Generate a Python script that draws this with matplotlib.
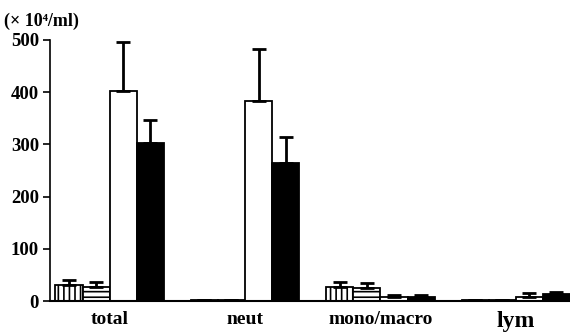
import numpy as np
import matplotlib.pyplot as plt

groups = ["total", "neut", "mono/macro", "lym"]
vert_vals = [31, 2, 27, 2]
vert_err = [9, 0, 10, 0]
horiz_vals = [27, 2, 24, 2]
horiz_err = [10, 0, 10, 0]
white_vals = [402, 383, 7, 7]
white_err = [94, 100, 4, 9]
black_vals = [303, 264, 8, 13]
black_err = [44, 50, 4, 5]

plt.rcParams["font.family"] = ["Liberation Serif", "DejaVu Serif"]
plt.rcParams["hatch.linewidth"] = 1.2

fig = plt.figure(figsize=(5.7, 3.36), dpi=100)
ax = fig.add_axes([50 / 570, 35 / 336, 520 / 570, 261 / 336])

x = np.arange(len(groups))
w = 0.2
series = [
    (vert_vals, vert_err, "white", "|||"),
    (horiz_vals, horiz_err, "white", "---"),
    (white_vals, white_err, "white", None),
    (black_vals, black_err, "black", None),
]
for i, (vals, errs, fc, hatch) in enumerate(series):
    pos = x + (i - 1.5) * w
    ax.bar(pos, vals, width=w, color=fc, edgecolor="black", hatch=hatch,
           linewidth=1.3, zorder=2)
    ax.errorbar(pos, vals, yerr=[np.zeros(len(vals)), errs], fmt="none",
                ecolor="black", elinewidth=2, capsize=5, capthick=2, zorder=3)

ax.set_xlim(-0.44, 3.4)
ax.set_ylim(0, 500)
ax.set_yticks([0, 100, 200, 300, 400, 500])
ax.set_yticklabels(["0", "100", "200", "300", "400", "500"],
                   fontsize=13.5, fontweight="bold")
ax.set_xticks(x)
ax.set_xticklabels(groups, fontsize=14, fontweight="bold")
ax.get_xticklabels()[3].set_fontsize(17)
ax.tick_params(axis="x", length=0, pad=7)
ax.tick_params(axis="y", length=5, width=1.2, pad=3)
ax.spines["top"].set_visible(False)
ax.spines["right"].set_visible(False)
ax.spines["left"].set_linewidth(1.2)
ax.spines["bottom"].set_linewidth(1.5)

fig.text(4 / 570, 1 - 26 / 336, "(× 10⁴/ml)", fontsize=13, fontweight="bold")

fig.savefig("out.png", dpi=100)
